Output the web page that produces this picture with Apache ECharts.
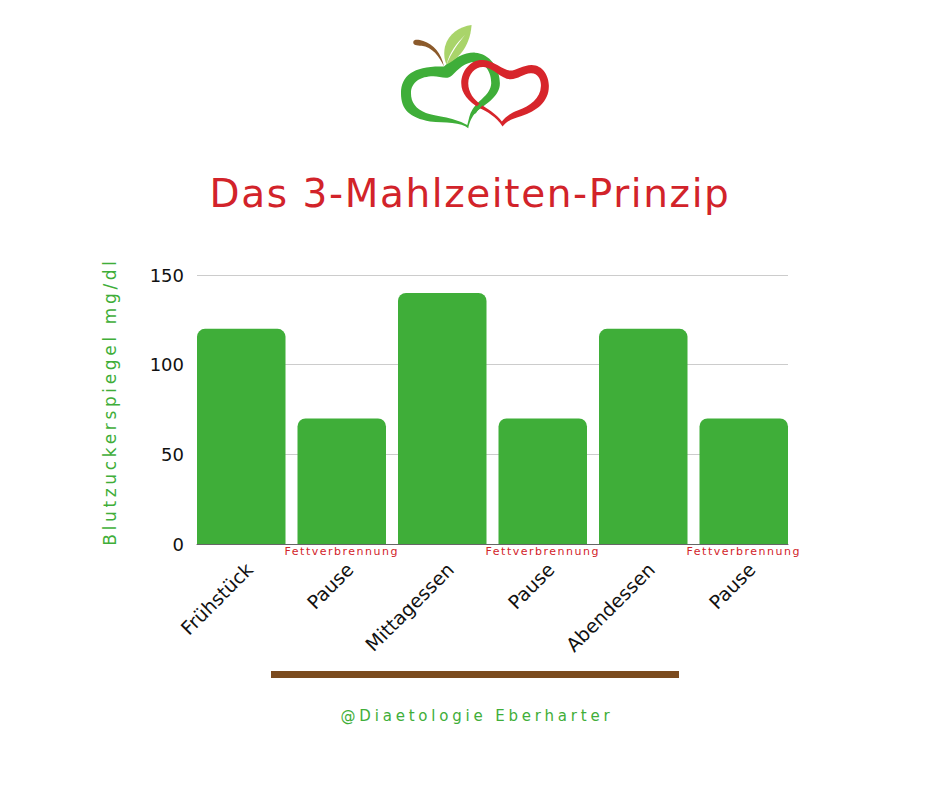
<!DOCTYPE html>
<html>
<head>
<meta charset="utf-8">
<style>html,body{margin:0;padding:0;background:#fff}#chart{width:940px;height:788px}</style>
<script src="https://cdn.jsdelivr.net/npm/echarts@6/dist/echarts.min.js"></script>
</head>
<body>
<div id="chart"></div>
<script>
var categories = ['Frühstück', 'Pause', 'Mittagessen', 'Pause', 'Abendessen', 'Pause'];
var bloodSugar = [120, 70, 140, 70, 120, 70];
var barNotes = ['', 'Fettverbrennung', '', 'Fettverbrennung', '', 'Fettverbrennung'];
var titleText = 'Das 3-Mahlzeiten-Prinzip';
var yAxisName = 'Blutzuckerspiegel mg/dl';
var footerText = '@Diaetologie Eberharter';

var FONT = '"DejaVu Sans", sans-serif';
var GREEN = '#3fae39';
var RED = '#d2232a';

// logo outlines, drawn in a 3x box and scaled down
var logoShapes = {
    logoGreen: 'M235,340C215,322 165,324 120,320C60,308 33,285 33,235C33,180 75,152 162,155C190,130 225,112 255,113C300,115 330,160 330,205C330,245 290,265 260,290C245,305 238,325 235,340Z' +
        'M232,330C237,315 238,298 248,283C268,253 302,240 304,205C305,172 285,141 255,141C227,141 204,162 186,182C172,196 150,184 130,184C92,184 63,202 63,235C63,263 78,282 108,294C132,304 185,304 232,330Z',
    logoRed: 'M338,335C320,305 290,290 270,280C235,260 214,235 214,205C214,165 245,132 280,135C310,137 340,165 360,167C380,167 400,150 425,150C460,150 478,185 477,215C477,260 440,290 395,303C370,310 350,318 338,335Z' +
        'M336,320C345,306 365,293 385,286C420,274 452,250 453,215C455,197 445,175 425,175C405,173 385,193 362,193C335,193 310,158 282,156C257,154 235,177 235,205C235,233 252,255 274,269C292,282 320,298 336,320Z',
    logoCross: 'M290,250L304,238C295,260 270,275 258,295L243,300C250,280 270,265 290,250Z',
    logoStem: 'M70,80C72,72 85,73 100,78C130,88 155,115 162,155C150,125 125,95 95,92C80,92 68,90 70,80Z',
    logoLeaf: 'M245,30C210,35 175,55 165,95C160,120 165,140 170,148C200,135 240,100 245,30Z',
    logoVein: 'M170,148C180,110 200,85 225,60C205,85 185,112 170,148Z'
};
Object.keys(logoShapes).forEach(function (name) {
    echarts.graphic.registerShape(name, echarts.graphic.extendPath(logoShapes[name], {}));
});

function logoPath(name, color) {
    return {type: name, style: {fill: color}};
}

// svg renderer: the wide-tracked texts get their letter-spacing after drawing
var myChart = echarts.init(document.getElementById('chart'), null, {renderer: 'svg'});
var option = {
    backgroundColor: '#fff',
    animation: false,
    textStyle: {fontFamily: FONT},
    title: {
        text: titleText,
        left: 'center',
        top: 169,
        textStyle: {color: RED, fontSize: 39, fontWeight: 'normal', fontFamily: FONT}
    },
    // grid 0 carries the value axis and its lines, grid 1 the bars, grid 2 the slanted labels
    grid: [
        {left: 197, width: 591, top: 275, height: 269},
        {left: 191, width: 603, top: 275, height: 269},
        {left: 199, width: 603, top: 275, height: 269}
    ],
    xAxis: [
        {
            gridIndex: 0, type: 'category', data: categories,
            axisLine: {show: true, lineStyle: {color: '#666', width: 1}},
            axisTick: {show: false}, axisLabel: {show: false}
        },
        {
            gridIndex: 1, type: 'category', data: barNotes,
            axisLine: {show: false}, axisTick: {show: false},
            axisLabel: {interval: 0, margin: 2, fontSize: 11, color: RED, fontFamily: FONT}
        },
        {
            gridIndex: 2, type: 'category', data: categories,
            axisLine: {show: false}, axisTick: {show: false},
            axisLabel: {interval: 0, rotate: 45, margin: 22, fontSize: 19, color: '#111', fontFamily: FONT}
        }
    ],
    yAxis: [
        {
            gridIndex: 0, type: 'value', min: 0, max: 150, interval: 50,
            name: yAxisName, nameLocation: 'middle', nameGap: 79,
            nameTextStyle: {color: GREEN, fontSize: 17, fontFamily: FONT, padding: [0, 0, 0, 16]},
            axisLine: {show: false}, axisTick: {show: false},
            axisLabel: {margin: 13, fontSize: 18, color: '#111', fontFamily: FONT},
            splitLine: {lineStyle: {color: '#ccc', width: 1}}
        },
        {gridIndex: 1, type: 'value', min: 0, max: 150, interval: 50, show: false},
        {gridIndex: 2, type: 'value', min: 0, max: 150, interval: 50, show: false}
    ],
    series: [{
        type: 'bar',
        xAxisIndex: 1,
        yAxisIndex: 1,
        data: bloodSugar,
        barWidth: 88.5,
        itemStyle: {color: GREEN, borderRadius: [8, 8, 0, 0]}
    }],
    graphic: [
        {
            type: 'group', x: 390, y: 15, scaleX: 1 / 3, scaleY: 1 / 3,
            children: [
                logoPath('logoGreen', GREEN),
                logoPath('logoRed', '#d7252b'),
                logoPath('logoCross', GREEN),
                logoPath('logoStem', '#8b5a2b'),
                logoPath('logoLeaf', '#a9d46a'),
                logoPath('logoVein', '#fff')
            ]
        },
        {type: 'rect', shape: {x: 271, y: 671, width: 408, height: 7}, style: {fill: '#7b4b1e'}},
        {
            type: 'text', x: 477, y: 716,
            style: {text: footerText, fill: GREEN, font: '15px ' + FONT, align: 'center', verticalAlign: 'middle'}
        }
    ]
};
myChart.setOption(option);

var tracking = {};
tracking[titleText] = '1.6px';
tracking[yAxisName] = '3.65px';
tracking[footerText] = '3.8px';
tracking[barNotes[1]] = '1.5px';

function applyTracking() {
    document.querySelectorAll('#chart svg text').forEach(function (t) {
        var spacing = tracking[t.textContent];
        if (spacing) {
            t.style.letterSpacing = spacing;
        }
    });
}
myChart.on('finished', applyTracking);
applyTracking();
</script>
</body>
</html>
